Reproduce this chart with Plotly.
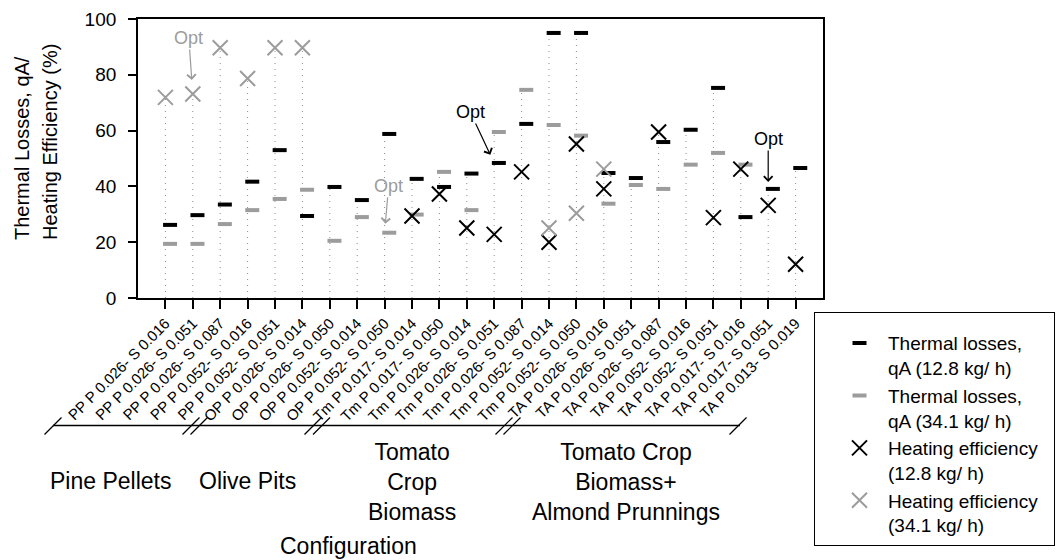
import plotly.graph_objects as go
import numpy as np

# ---------------- data ----------------
configs = [
    "PP P 0.026- S 0.016", "PP P 0.026- S 0.051", "PP P 0.026- S 0.087",
    "PP P 0.052- S 0.016", "PP P 0.052- S 0.051",
    "OP P 0.026- S 0.014", "OP P 0.026- S 0.050", "OP P 0.052- S 0.014",
    "OP P 0.052- S 0.050",
    "Tm P 0.017- S 0.014", "Tm P 0.017- S 0.050", "Tm P 0.026- S 0.014",
    "Tm P 0.026- S 0.051", "Tm P 0.026- S 0.087", "Tm P 0.052- S 0.014",
    "Tm P 0.052- S 0.050",
    "TA P 0.026- S 0.016", "TA P 0.026- S 0.051", "TA P 0.026- S 0.087",
    "TA P 0.052- S 0.016", "TA P 0.052- S 0.051", "TA P 0.017- S 0.016",
    "TA P 0.017- S 0.051", "TA P 0.013- S 0.019",
]
thermal_12_8 = [26.2, 29.7, 33.5, 41.7, 53.0, 29.4, 39.8, 35.1, 58.8,
                42.7, 39.8, 44.6, 48.4, 62.4, 95.0, 95.0,
                44.8, 43.0, 55.9, 60.3, 75.3, 29.0, 39.1, 46.6]
thermal_34_1 = [19.4, 19.4, 26.5, 31.5, 35.5, 38.8, 20.5, 29.0, 23.4,
                29.9, 45.2, 31.5, 59.5, 74.6, 62.0, 58.2,
                33.8, 40.5, 39.1, 47.8, 52.0, 47.8, None, None]
eff_12_8 = [None, None, None, None, None, None, None, None, None,
            29.4, 37.3, 25.1, 22.8, 45.2, 20.0, 55.2,
            39.1, None, 59.5, None, 28.8, 46.2, 33.2, 12.1]
eff_34_1 = [71.9, 73.1, 89.7, 78.7, 89.7, 89.7, None, None, None,
            None, None, None, None, None, 25.1, 30.4,
            46.2, None, None, None, None, None, None, None]
y_ticks = [0, 20, 40, 60, 80, 100]
group_names = ["Pine Pellets", "Olive Pits", "Tomato<br>Crop<br>Biomass",
               "Tomato Crop<br>Biomass+<br>Almond Prunnings"]
y_title_lines = ["Thermal Losses, qA/", "Heating Efficiency (%)"]
legend_names = ["Thermal losses,<br>qA (12.8 kg/ h)",
                "Thermal losses,<br>qA (34.1 kg/ h)",
                "Heating efficiency\u00a0\u00a0<br>(12.8 kg/ h)",
                "Heating efficiency\u00a0\u00a0<br>(34.1 kg/ h)"]
# (category index 1-based, series name) of "Opt" marks
opt_marks = [(2, "eff_34_1"), (9, "thermal_34_1"), (13, "thermal_12_8"), (23, "thermal_12_8")]

series = {"thermal_12_8": thermal_12_8, "thermal_34_1": thermal_34_1,
          "eff_12_8": eff_12_8, "eff_34_1": eff_34_1}

# ---------------- layout constants (pixels) ----------------
W, H = 1056, 560
L, R, T, B = 138, 823, 19, 298
FONT = "Liberation Sans, Arial, sans-serif"
BLACK = "#000000"
GRAY = "#9c9c9c"
DASH_SHIFT = 0.17  # dash markers sit slightly right of the drop line


def pxx(x):
    return (x - L) / (R - L)


def pxy(y):
    return (B - y) / (B - T)


xs = np.arange(1, len(configs) + 1)

fig = go.Figure()

# drop lines from 0 to the highest value of each configuration
vx, vy = [], []
for i in range(len(configs)):
    vals = [s[i] for s in series.values() if s[i] is not None]
    vx += [xs[i], xs[i], None]
    vy += [0, max(vals), None]
fig.add_trace(go.Scatter(x=vx, y=vy, mode="lines", showlegend=False, hoverinfo="skip",
                         line=dict(color="#8c8c8c", width=1, dash="1px,5px")))

fig.add_trace(go.Scatter(
    x=xs + DASH_SHIFT, y=thermal_12_8, mode="markers", name=legend_names[0],
    marker=dict(symbol="line-ew", size=10, line=dict(color=BLACK, width=4))))
fig.add_trace(go.Scatter(
    x=xs + DASH_SHIFT, y=thermal_34_1, mode="markers", name=legend_names[1],
    marker=dict(symbol="line-ew", size=10, line=dict(color=GRAY, width=4))))
fig.add_trace(go.Scatter(
    x=xs, y=eff_12_8, mode="markers", name=legend_names[2],
    marker=dict(symbol="x-thin", size=15, line=dict(color=BLACK, width=2))))
fig.add_trace(go.Scatter(
    x=xs, y=eff_34_1, mode="markers", name=legend_names[3],
    marker=dict(symbol="x-thin", size=15, line=dict(color=GRAY, width=2))))

annotations = []
# "Opt" arrows
opt_style = {
    2: dict(ax=-4, ay=-56, standoff=14),
    9: dict(ax=4, ay=-47, standoff=9),
    13: dict(ax=-24, ay=-51, standoff=9),
    23: dict(ax=0, ay=-50, standoff=7),
}
for cat, sname in opt_marks:
    col = GRAY if sname.endswith("34_1") else BLACK
    annotations.append(dict(
        x=xs[cat - 1], y=series[sname][cat - 1], xref="x", yref="y",
        text="Opt", showarrow=True, arrowhead=4, arrowsize=1.4, arrowwidth=1.2,
        arrowcolor=col, font=dict(family=FONT, size=18, color=col),
        **opt_style[cat]))

# y-axis title (two lines, aligned at their start)
for line, lx in zip(y_title_lines, [22, 50]):
    annotations.append(dict(
        x=pxx(lx), y=pxy(242), xref="paper", yref="paper", showarrow=False,
        text=line, textangle=-90, xanchor="center", yanchor="bottom",
        font=dict(family=FONT, size=20, color=BLACK)))

# group labels
group_pos = [(110, 481), (247, 481), (412, 481.5), (626, 481.5)]
for name, (gx, gy) in zip(group_names, group_pos):
    annotations.append(dict(
        x=pxx(gx), y=pxy(gy), xref="paper", yref="paper", showarrow=False,
        text=name, align="center", xanchor="center", yanchor="middle",
        font=dict(family=FONT, size=23, color=BLACK)))
annotations.append(dict(
    x=pxx(348), y=pxy(546), xref="paper", yref="paper", showarrow=False,
    text="Configuration", xanchor="center", yanchor="middle",
    font=dict(family=FONT, size=23, color=BLACK)))

# group bracket line with break marks
shapes = [dict(type="line", xref="paper", yref="paper",
               x0=pxx(53), x1=pxx(740), y0=pxy(425.5), y1=pxy(425.5),
               line=dict(color=BLACK, width=1.5))]
for cx in [53, 191, 199, 313, 321.5, 504, 512, 738]:
    shapes.append(dict(type="line", xref="paper", yref="paper",
                       x0=pxx(cx - 8.5), x1=pxx(cx + 8.5),
                       y0=pxy(434.5), y1=pxy(417.5),
                       line=dict(color=BLACK, width=1.2)))

fig.update_layout(
    width=W, height=H,
    margin=dict(l=L, r=W - R, t=T, b=H - B, autoexpand=False),
    paper_bgcolor="white", plot_bgcolor="white",
    font=dict(family=FONT, color=BLACK),
    annotations=annotations, shapes=shapes,
    legend=dict(x=pxx(814), y=pxy(311.5), xanchor="left", yanchor="top",
                bordercolor=BLACK, borderwidth=1, bgcolor="white",
                font=dict(family=FONT, size=19, color=BLACK),
                title=dict(text=" ", font=dict(size=9)),
                valign="top", indentation=16, itemwidth=47, tracegroupgap=0),
    xaxis=dict(range=[0, 25], tickmode="array", tickvals=xs, ticktext=configs,
               tickangle=-45, tickfont=dict(family=FONT, size=15, color=BLACK),
               ticks="outside", ticklen=9, tickwidth=1.5, tickcolor=BLACK,
               showline=True, linecolor=BLACK, linewidth=1.8, mirror=True,
               showgrid=False, zeroline=False, automargin=False),
    yaxis=dict(range=[0, 100], tickmode="array", tickvals=y_ticks,
               tickfont=dict(family=FONT, size=19, color=BLACK),
               ticks="outside", ticklen=8, tickwidth=1.5, tickcolor=BLACK,
               ticklabelstandoff=8,
               showline=True, linecolor=BLACK, linewidth=1.8, mirror=True,
               showgrid=False, zeroline=False, automargin=False),
)

fig.write_html("out.html")
